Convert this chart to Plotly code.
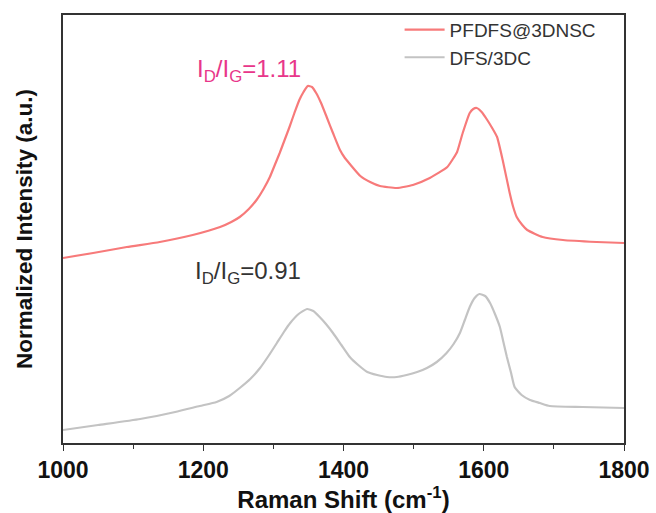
import plotly.graph_objects as go

# Raman shift (cm^-1) and normalized intensity (a.u.)
x_pfdfs = [1000, 1043, 1091, 1138, 1185, 1224, 1240, 1252, 1265, 1276, 1286, 1295, 1302,
           1309, 1316, 1323, 1330, 1337, 1343, 1349, 1355, 1361, 1368, 1376, 1385, 1395,
           1402, 1409, 1424, 1438, 1452, 1476, 1499, 1523, 1548, 1556, 1562, 1570, 1580,
           1585, 1590, 1597, 1605, 1612, 1619, 1627, 1637, 1642, 1647, 1655, 1662, 1684,
           1713, 1761, 1800]
y_pfdfs = [1.85, 1.90, 1.96, 2.01, 2.08, 2.16, 2.21, 2.26, 2.34, 2.43, 2.54, 2.66, 2.78,
           2.90, 3.03, 3.16, 3.30, 3.43, 3.51, 3.57, 3.56, 3.50, 3.40, 3.26, 3.10, 2.93,
           2.85, 2.79, 2.67, 2.61, 2.57, 2.55, 2.58, 2.65, 2.76, 2.84, 2.91, 3.10, 3.30,
           3.34, 3.35, 3.31, 3.23, 3.15, 3.06, 2.83, 2.50, 2.36, 2.26, 2.18, 2.13, 2.06,
           2.03, 2.01, 2.00]

x_dfs = [1000, 1050, 1110, 1160, 1195, 1219, 1237, 1252, 1267, 1281, 1293, 1305, 1315,
         1324, 1336, 1348, 1357, 1366, 1375, 1385, 1397, 1409, 1421, 1434, 1448, 1462,
         1476, 1490, 1505, 1519, 1533, 1547, 1557, 1566, 1573, 1580, 1587, 1594, 1602,
         1609, 1616, 1623, 1628, 1633, 1639, 1644, 1654, 1666, 1680, 1694, 1741, 1800]
y_dfs = [0.13, 0.18, 0.24, 0.31, 0.37, 0.41, 0.47, 0.55, 0.64, 0.75, 0.87, 1.00, 1.11,
         1.20, 1.29, 1.34, 1.32, 1.26, 1.19, 1.10, 0.98, 0.86, 0.78, 0.71, 0.68, 0.66,
         0.66, 0.68, 0.71, 0.75, 0.81, 0.90, 0.99, 1.10, 1.23, 1.36, 1.45, 1.49, 1.47,
         1.40, 1.29, 1.16, 1.01, 0.86, 0.70, 0.56, 0.48, 0.43, 0.40, 0.37, 0.36, 0.35]

series_names = ["PFDFS@3DNSC", "DFS/3DC"]
ratio_labels = ["I<sub>D</sub>/I<sub>G</sub>=1.11", "I<sub>D</sub>/I<sub>G</sub>=0.91"]
ratio_pos = [(1265, 3.73), (1264, 1.71)]
x_ticks = [1000, 1200, 1400, 1600, 1800]

FONT = "Liberation Sans, Arial, sans-serif"

fig = go.Figure()
fig.add_trace(go.Scatter(x=x_pfdfs, y=y_pfdfs, mode="lines", name=series_names[0],
                         line=dict(color="#F77A7A", width=2.2, shape="spline", smoothing=0.5)))
fig.add_trace(go.Scatter(x=x_dfs, y=y_dfs, mode="lines", name=series_names[1],
                         line=dict(color="#C3C3C3", width=2.2, shape="spline", smoothing=0.5)))

fig.add_annotation(x=ratio_pos[0][0], y=ratio_pos[0][1], text=ratio_labels[0],
                   showarrow=False, font=dict(family=FONT, size=24, color="#E8368A"))
fig.add_annotation(x=ratio_pos[1][0], y=ratio_pos[1][1], text=ratio_labels[1],
                   showarrow=False, font=dict(family=FONT, size=24, color="#333333"))

fig.update_layout(
    width=656, height=513,
    margin=dict(l=63, r=32, t=15, b=70, autoexpand=False),
    paper_bgcolor="white", plot_bgcolor="white",
    font=dict(family=FONT, color="#111111"),
    showlegend=True,
    legend=dict(x=0.60, y=1.01, xanchor="left", yanchor="top",
                bgcolor="rgba(0,0,0,0)", font=dict(family=FONT, size=19, color="#333333"),
                itemwidth=40, tracegroupgap=0),
    xaxis=dict(range=[1000, 1800], tickvals=x_ticks, ticks="outside", ticklen=6,
               tickwidth=1.2, tickcolor="#333333", automargin=False,
               minor=dict(ticks="outside", dtick=100, ticklen=4, tickcolor="#333333"),
               showline=True, linecolor="#333333", linewidth=1.5, mirror=True,
               showgrid=False, zeroline=False,
               tickfont=dict(family=FONT, size=23, color="#111111", weight="bold"),
               title=dict(text="Raman Shift (cm<sup>-1</sup>)", standoff=4,
                          font=dict(family=FONT, size=24, color="#111111", weight="bold"))),
    yaxis=dict(range=[0, 4.28], showticklabels=False, ticks="", automargin=False,
               showline=True, linecolor="#333333", linewidth=1.5, mirror=True,
               showgrid=False, zeroline=False,
               title=dict(text="Normalized Intensity (a.u.)", standoff=22,
                          font=dict(family=FONT, size=22.5, color="#111111", weight="bold"))),
)

fig.write_html("out.html")
